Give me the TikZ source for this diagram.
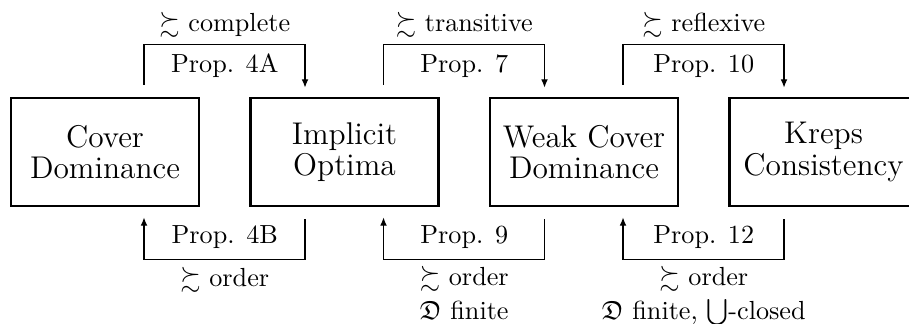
\documentclass[tikz,border=0pt]{standalone}
\usepackage{amssymb}
\usetikzlibrary{calc,arrows.meta}
\begin{document}
\begin{tikzpicture}[x=0.382pt,y=0.382pt,
  boxnode/.style={draw,line width=0.95pt,minimum width=71.8pt,minimum height=41.3pt,inner sep=0pt,align=center,font=\large},
  lbl/.style={anchor=base,inner sep=0pt,align=center},
  conn/.style={line width=0.5pt},
  arr/.style={conn,-{Latex[length=3.2pt,width=2.6pt]}}]
\useasboundingbox (0,0) rectangle (909,323);
\node[boxnode] (b1) at (105,171) {Cover\\[-2pt]Dominance};
\node[boxnode] (b2) at (344.5,171) {Implicit\\[-2pt]Optima};
\node[boxnode] (b3) at (584,171) {Weak Cover\\[-2pt]Dominance};
\node[boxnode] (b4) at (823.5,171) {Kreps\\[-2pt]Consistency};
% top connectors
\draw[arr] ($(b1.north)+(39,12)$) -- ++(0,40) -| ($(b2.north)+(-39.5,9)$);
\draw[arr] ($(b2.north)+(39,12)$) -- ++(0,40) -| ($(b3.north)+(-39.5,9)$);
\draw[arr] ($(b3.north)+(39,12)$) -- ++(0,40) -| ($(b4.north)+(-39.5,9)$);
\node[lbl] (p4a) at ($(b1.north)!.5!(b2.north)+(0,24)$) {Prop. 4A};
\node[lbl] (p7) at ($(b2.north)!.5!(b3.north)+(0,24)$) {Prop. 7};
\node[lbl] (p10) at ($(b3.north)!.5!(b4.north)+(0,24)$) {Prop. 10};
\node[lbl] (c1) at ($(b1.north)!.5!(b2.north)+(0,65)$) {$\succsim$ complete};
\node[lbl] (c2) at ($(b2.north)!.5!(b3.north)+(0,65)$) {$\succsim$ transitive};
\node[lbl] (c3) at ($(b3.north)!.5!(b4.north)+(0,65)$) {$\succsim$ reflexive};
% bottom connectors
\draw[arr] ($(b2.south)+(-39.5,-12)$) -- ++(0,-40) -| ($(b1.south)+(39,-10)$);
\draw[arr] ($(b3.south)+(-39.5,-12)$) -- ++(0,-40) -| ($(b2.south)+(39,-10)$);
\draw[arr] ($(b4.south)+(-39.5,-12)$) -- ++(0,-40) -| ($(b3.south)+(39,-10)$);
\node[lbl] (p4b) at ($(b1.south)!.5!(b2.south)+(0,-36)$) {Prop. 4B};
\node[lbl] (p9) at ($(b2.south)!.5!(b3.south)+(0,-36)$) {Prop. 9};
\node[lbl] (p12) at ($(b3.south)!.5!(b4.south)+(0,-36)$) {Prop. 12};
\node[lbl] (d1) at ($(b1.south)!.5!(b2.south)+(0,-79)$) {$\succsim$ order};
\node[lbl] (d2) at ($(b2.south)!.5!(b3.south)+(0,-112)$) {$\succsim$ order\\[1pt]$\mathfrak{D}$ finite};
\node[lbl] (d3) at ($(b3.south)!.5!(b4.south)+(0,-112)$) {$\succsim$ order\\[1pt]$\mathfrak{D}$ finite, $\bigcup$-closed};
\end{tikzpicture}
\end{document}
